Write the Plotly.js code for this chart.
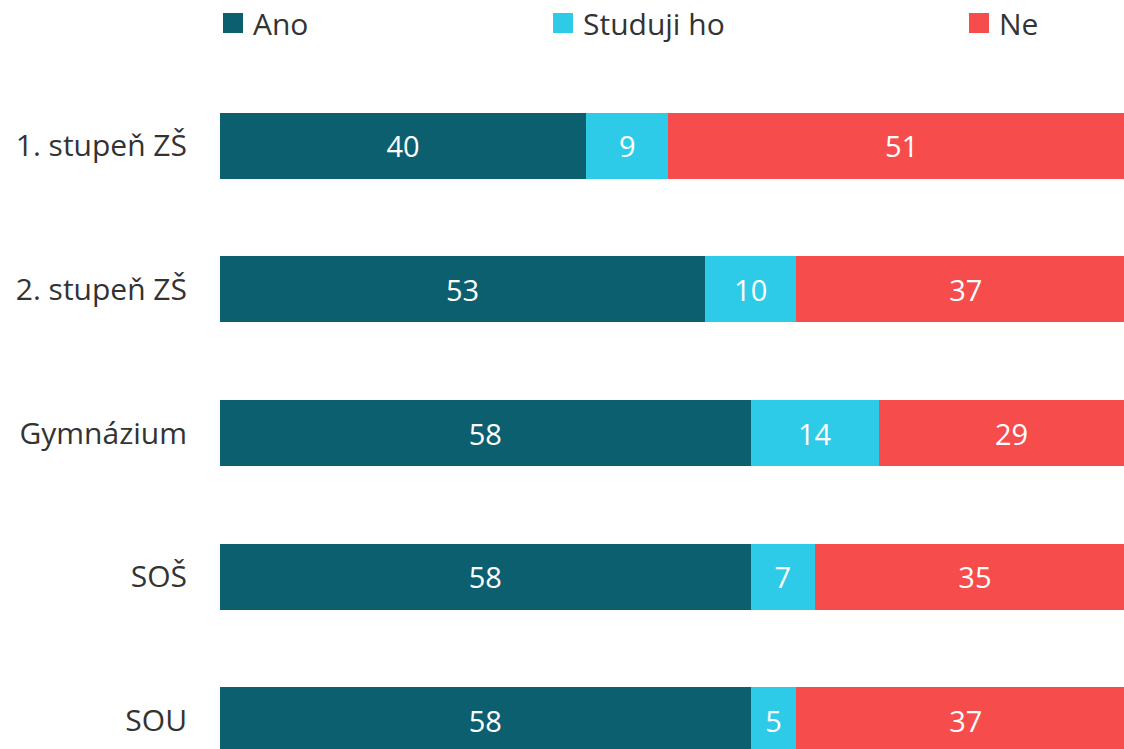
<!DOCTYPE html>
<html>
<head>
<meta charset="utf-8">
<script src="https://cdn.plot.ly/plotly-3.0.1.min.js"></script>
<style>
html, body { margin: 0; padding: 0; overflow: hidden; background: #fff; }
#chart { width: 1140px; height: 800px; }
</style>
</head>
<body>
<div id="chart"></div>
<script>
const categories = ["1. stupeň ZŠ", "2. stupeň ZŠ", "Gymnázium", "SOŠ", "SOU"];
const seriesNames = ["Ano", "Studuji ho", "Ne"];
const ano = [40, 53, 58, 58, 58];
const studuji = [9, 10, 14, 7, 5];
const ne = [51, 37, 29, 35, 37];
const colors = ["#0c5f6e", "#2ecbe9", "#f74c4c"];

const FONT = "Open Sans, Noto Sans, sans-serif";
const values = [ano, studuji, ne];
const legendIds = ["legend", "legend2", "legend3"];

const traces = [];
values.forEach((vals, i) => {
  traces.push({
    type: "bar",
    orientation: "h",
    name: seriesNames[i],
    y: categories,
    x: vals,
    text: vals.map(String),
    textposition: "inside",
    insidetextanchor: "middle",
    textfont: { color: "#ffffff", size: 29, family: FONT },
    marker: { color: colors[i], line: { width: 0 } },
    showlegend: false,
    hoverinfo: "none"
  });
});
// legend entries with larger square symbols
values.forEach((vals, i) => {
  traces.push({
    type: "scatter",
    mode: "markers",
    name: seriesNames[i],
    x: [null],
    y: [null],
    marker: { symbol: "square", size: 16, color: colors[i], line: { width: 4, color: colors[i] } },
    legend: legendIds[i],
    showlegend: true,
    hoverinfo: "none"
  });
});

const legendBase = {
  orientation: "h",
  xref: "paper",
  yref: "container",
  y: 1 - 23 / 800,
  yanchor: "middle",
  xanchor: "left",
  font: { size: 30, family: FONT, color: "#333333" },
  bgcolor: "rgba(0,0,0,0)",
  itemsizing: "trace"
};

const layout = {
  width: 1140,
  height: 800,
  margin: { l: 220, r: 5, t: 74, b: 8 },
  paper_bgcolor: "#ffffff",
  plot_bgcolor: "#ffffff",
  barmode: "stack",
  bargap: 0.54,
  font: { family: FONT, color: "#333333" },
  xaxis: {
    range: [0, 100],
    showgrid: false,
    zeroline: false,
    showticklabels: false,
    showline: false,
    fixedrange: true
  },
  yaxis: {
    type: "category",
    autorange: "reversed",
    showgrid: false,
    zeroline: false,
    showline: false,
    ticks: "",
    ticklabelstandoff: 32,
    tickfont: { size: 30, family: FONT, color: "#333333" },
    fixedrange: true
  },
  legend: Object.assign({}, legendBase, { x: (213 - 220) / 915 }),
  legend2: Object.assign({}, legendBase, { x: (543 - 220) / 915 }),
  legend3: Object.assign({}, legendBase, { x: (959 - 220) / 915 }),
  showlegend: true
};

Plotly.newPlot("chart", traces, layout, { displayModeBar: false, staticPlot: true });
</script>
</body>
</html>
